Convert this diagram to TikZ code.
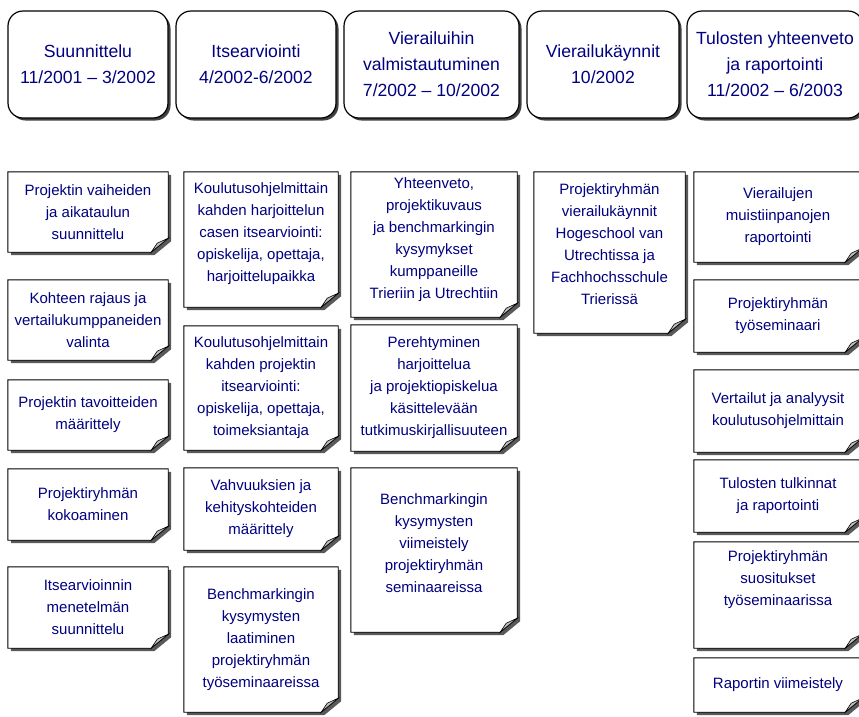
\documentclass[tikz,border=0pt]{standalone}
\usepackage{fontspec}
\setmainfont{Liberation Sans}
\usetikzlibrary{shadows,backgrounds}
\definecolor{navytext}{RGB}{0,0,128}
\definecolor{foldgray}{RGB}{190,190,190}
\newcommand{\pagepath}[1]{(#1.north west) -- (#1.north east) -- ([yshift=14pt]#1.south east) -- ([xshift=-17pt]#1.south east) -- (#1.south west) -- cycle}
\tikzset{
  phasebox/.style={draw, line width=1.2pt, rounded corners=15pt, fill=white, text=navytext,
    align=center, font=\fontsize{17.6}{26}\selectfont, minimum height=107pt, inner sep=2pt,
    drop shadow={shadow xshift=2.5pt, shadow yshift=-2.5pt, fill=black!75, opacity=1}},
  notebox/.style={text=navytext, align=center, font=\fontsize{15}{22}\selectfont, inner sep=2pt},
  col1/.style={notebox, minimum width=160pt},
  col2/.style={notebox, minimum width=154pt},
  col3/.style={notebox, minimum width=166pt},
  col4/.style={notebox, minimum width=151pt},
  col5/.style={notebox, minimum width=168pt}
}
\begin{document}
\begin{tikzpicture}[x=1pt, y=-1pt]
  \useasboundingbox (0,0) rectangle (859,716);
  % phases
  \node (suunn) at (88,64.5) [phasebox, minimum width=160pt] {Suunnittelu\\11/2001 -- 3/2002};
  \node (itsearv) at (256,64.5) [phasebox, minimum width=160pt] {Itsearviointi\\4/2002-6/2002};
  \node (valmist) at (431.5,64.5) [phasebox, minimum width=175pt] {Vierailuihin\\valmistautuminen\\7/2002 -- 10/2002};
  \node (vierailu) at (603,64.5) [phasebox, minimum width=152pt] {Vierailukäynnit\\10/2002};
  \node (tulokset) at (775,64.5) [phasebox, minimum width=176pt] {Tulosten yhteenveto\\ja raportointi\\11/2002 -- 6/2003};
  % tasks
  \node (su1) at (88,212) [col1, minimum height=80pt] {Projektin vaiheiden\\ja aikataulun\\suunnittelu};
  \node (su2) at (88,320) [col1, minimum height=80pt] {Kohteen rajaus ja\\vertailukumppaneiden\\valinta};
  \node (su3) at (88,415) [col1, minimum height=70pt] {Projektin tavoitteiden\\määrittely};
  \node (su4) at (88,504.5) [col1, minimum height=71pt] {Projektiryhmän\\kokoaminen};
  \node (su5) at (88,607.5) [col1, minimum height=81pt] {Itsearvioinnin\\menetelmän\\suunnittelu};
  \node (it1) at (261,239.5) [col2, minimum height=135pt, text depth=14pt] {Koulutusohjelmittain\\kahden harjoittelun\\casen itsearviointi:\\opiskelija, opettaja,\\harjoittelupaikka};
  \node (it2) at (261,388) [col2, minimum height=124pt] {Koulutusohjelmittain\\kahden projektin\\itsearviointi:\\opiskelija, opettaja,\\toimeksiantaja};
  \node (it3) at (261,509) [col2, minimum height=82pt] {Vahvuuksien ja\\kehityskohteiden\\määrittely};
  \node (it4) at (261,639.5) [col2, minimum height=145pt] {Benchmarkingin\\kysymysten\\laatiminen\\projektiryhmän\\työseminaareissa};
  \node (va1) at (434,244.5) [col3, minimum height=145pt, text depth=12pt] {Yhteenveto,\\projektikuvaus\\ja benchmarkingin\\kysymykset\\kumppaneille\\Trieriin ja Utrechtiin};
  \node (va2) at (434,388) [col3, minimum height=126pt] {Perehtyminen\\harjoittelua\\ja projektiopiskelua\\käsittelevään\\tutkimuskirjallisuuteen};
  \node (va3) at (434,550) [col3, minimum height=164pt, text depth=13pt] {Benchmarkingin\\kysymysten\\viimeistely\\projektiryhmän\\seminaareissa};
  \node (vi1) at (609.5,252.5) [col4, minimum height=161pt, text depth=16pt] {Projektiryhmän\\vierailukäynnit\\Hogeschool van\\Utrechtissa ja\\Fachhochsschule\\Trierissä};
  \node (tu1) at (778,217) [col5, minimum height=90pt] {Vierailujen\\muistiinpanojen\\raportointi};
  \node (tu2) at (778,316) [col5, minimum height=72pt] {Projektiryhmän\\työseminaari};
  \node (tu3) at (778,411) [col5, minimum height=82pt] {Vertailut ja analyysit\\koulutusohjelmittain};
  \node (tu4) at (778,496) [col5, minimum height=72pt] {Tulosten tulkinnat\\ja raportointi};
  \node (tu5) at (778,595) [col5, minimum height=106pt, text depth=34pt] {Projektiryhmän\\suositukset\\työseminaarissa};
  \node (tu6) at (778,685) [col5, minimum height=54pt] {Raportin viimeistely};
  \begin{pgfonlayer}{background}
    \foreach \n in {su1,su2,su3,su4,su5,it1,it2,it3,it4,va1,va2,va3,vi1,tu1,tu2,tu3,tu4,tu5,tu6} {
      \fill[black!65, transform canvas={xshift=3pt, yshift=-3pt}] \pagepath{\n};
      \filldraw[fill=white, line width=0.9pt] \pagepath{\n};
      \filldraw[fill=foldgray, line width=0.6pt] ([yshift=14pt]\n.south east) -- ([xshift=-11pt, yshift=9pt]\n.south east)
        .. controls ([xshift=-14pt, yshift=4pt]\n.south east) .. ([xshift=-17pt]\n.south east) -- cycle;
    }
  \end{pgfonlayer}
\end{tikzpicture}
\end{document}
